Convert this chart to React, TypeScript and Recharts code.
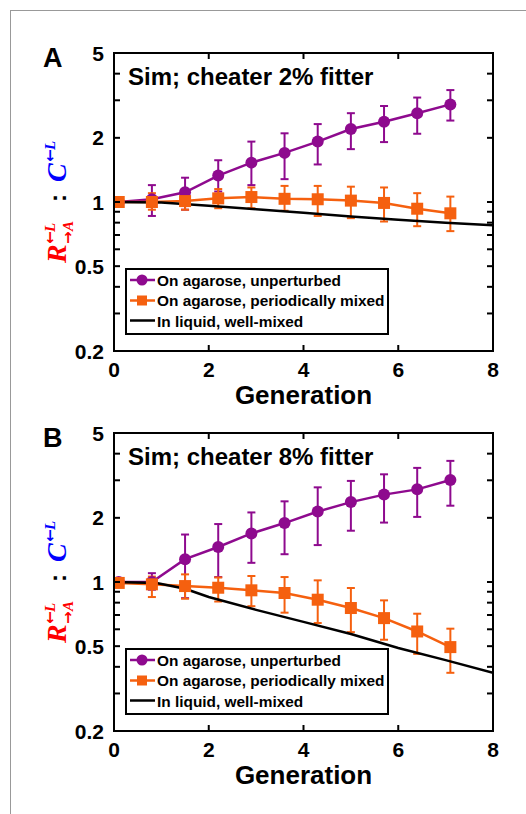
import React from "react";
import { ErrorBar, Line, LineChart, ReferenceArea, XAxis, YAxis } from "recharts";

const generations = [0.1, 0.8, 1.5, 2.2, 2.9, 3.6, 4.3, 5.0, 5.7, 6.4, 7.1];
const xTicks = [0, 2, 4, 6, 8];
const yTicks = [0.2, 0.3, 0.4, 0.5, 0.6, 0.7, 0.8, 0.9, 1, 2, 3, 4, 5];
const yLabels = [0.2, 0.5, 1, 2, 5];

// panel A: cheater 2% fitter
const agaroseA = [1.0, 1.03, 1.11, 1.33, 1.53, 1.7, 1.92, 2.2, 2.38, 2.61, 2.87];
const agaroseLoA = [1.0, 0.86, 0.92, 1.12, 1.2, 1.28, 1.5, 1.77, 1.91, 2.09, 2.41];
const agaroseHiA = [1.0, 1.2, 1.3, 1.57, 1.92, 2.1, 2.32, 2.61, 2.82, 3.09, 3.35];
const mixedA = [1.0, 1.0, 1.01, 1.04, 1.055, 1.035, 1.03, 1.015, 0.99, 0.93, 0.885];
const mixedLoA = [1.0, 0.92, 0.92, 0.935, 0.935, 0.91, 0.86, 0.84, 0.81, 0.77, 0.73];
const mixedHiA = [1.0, 1.1, 1.09, 1.15, 1.17, 1.19, 1.19, 1.18, 1.17, 1.1, 1.06];
const liquidGenA = [0, 1, 2, 3, 4, 5, 6, 7, 8];
const liquidA = [1.0, 0.995, 0.96, 0.925, 0.89, 0.855, 0.825, 0.8, 0.777];

// panel B: cheater 8% fitter
const agaroseB = [1.0, 1.0, 1.28, 1.46, 1.69, 1.89, 2.14, 2.37, 2.57, 2.72, 3.01];
const agaroseLoB = [1.0, 0.92, 0.84, 1.055, 1.23, 1.35, 1.49, 1.74, 1.9, 2.02, 2.28];
const agaroseHiB = [1.0, 1.1, 1.67, 1.87, 2.12, 2.39, 2.78, 2.98, 3.2, 3.43, 3.7];
const mixedB = [0.99, 0.975, 0.957, 0.94, 0.914, 0.888, 0.826, 0.755, 0.677, 0.586, 0.495];
const mixedLoB = [0.99, 0.85, 0.835, 0.81, 0.77, 0.718, 0.642, 0.582, 0.536, 0.46, 0.375];
const mixedHiB = [0.99, 1.06, 1.086, 1.05, 1.067, 1.055, 1.018, 0.937, 0.82, 0.71, 0.604];
const liquidGenB = [0, 0.9, 1.5, 2, 3, 4, 5, 6, 7, 8];
const liquidB = [1.0, 0.99, 0.93, 0.85, 0.74, 0.65, 0.57, 0.49, 0.43, 0.375];

const legendNames = [
  "On agarose, unperturbed",
  "On agarose, periodically mixed",
  "In liquid, well-mixed",
];

const PURPLE = "#8e0a8e";
const ORANGE = "#f5600f";
const SANS = "'Liberation Sans', Arial, Helvetica, sans-serif";
const SERIF = "'Liberation Serif', 'Times New Roman', serif";
const ARROWS = "'DejaVu Sans', sans-serif";

const W = 526;
const H = 410;
const LEFT = 114;
const RIGHT = 493;
const TOP = 53;
const BOTTOM = 351;
const TICK = 6;

// inward tick marks (bottom + mirrored top) and the label under the axis
const BottomTick = (props: any) => {
  const { x, y, payload } = props;
  const top = y - (BOTTOM - TOP);
  return (
    <g>
      <line x1={x} y1={y} x2={x} y2={y - TICK} stroke="#000" strokeWidth={2} />
      <line x1={x} y1={top} x2={x} y2={top + TICK} stroke="#000" strokeWidth={2} />
      <text x={x} y={y + 26} textAnchor="middle" fontSize={21} fontWeight="bold" fontFamily={SANS} fill="#000">
        {payload.value}
      </text>
    </g>
  );
};

// inward tick marks (left + mirrored right), labels only on 0.2, 0.5, 1, 2, 5
const LeftTick = (props: any) => {
  const { x, y, payload } = props;
  const right = x + (RIGHT - LEFT);
  return (
    <g>
      <line x1={x} y1={y} x2={x + TICK} y2={y} stroke="#000" strokeWidth={2} />
      <line x1={right} y1={y} x2={right - TICK} y2={y} stroke="#000" strokeWidth={2} />
      {yLabels.includes(payload.value) && (
        <text x={x - 10} y={y} dy="0.36em" textAnchor="end" fontSize={21} fontWeight="bold" fontFamily={SANS} fill="#000">
          {payload.value}
        </text>
      )}
    </g>
  );
};

const circleDot = (p: any) => <circle key={p.index} cx={p.cx} cy={p.cy} r={6} fill={PURPLE} />;
const squareDot = (p: any) => <rect key={p.index} x={p.cx - 6} y={p.cy - 6} width={12} height={12} fill={ORANGE} />;

function YLabel() {
  // R^{<-L}_{->A} : C^{<-L}, rotated
  return (
    <g transform="translate(66,202) rotate(-90)" fontWeight="bold">
      <text x={-61} y={0} fontSize={28} fontStyle="italic" fontFamily={SERIF} fill="#ff0000">R</text>
      <text x={-42} y={-11} fontSize={15} fontFamily={ARROWS} fill="#ff0000">←</text>
      <text x={-30} y={-11} fontSize={15} fontStyle="italic" fontFamily={SERIF} fill="#ff0000">L</text>
      <text x={-42} y={7} fontSize={15} fontFamily={ARROWS} fill="#ff0000">→</text>
      <text x={-29} y={7} fontSize={15} fontStyle="italic" fontFamily={SERIF} fill="#ff0000">A</text>
      <text x={4} y={0} textAnchor="middle" fontSize={24} fontFamily={SANS} fill="#000">:</text>
      <text x={20} y={0} fontSize={28} fontStyle="italic" fontFamily={SERIF} fill="#0000ff">C</text>
      <text x={40} y={-11} fontSize={15} fontFamily={ARROWS} fill="#0000ff">←</text>
      <text x={52} y={-11} fontSize={15} fontStyle="italic" fontFamily={SERIF} fill="#0000ff">L</text>
    </g>
  );
}

function Panel(props: {
  top: number;
  letter: string;
  title: string;
  agarose: number[];
  agaroseLo: number[];
  agaroseHi: number[];
  mixed: number[];
  mixedLo: number[];
  mixedHi: number[];
  liquidGen: number[];
  liquid: number[];
}) {
  const rows = generations.map((g, i) => ({
    gen: g,
    agarose: props.agarose[i],
    agaroseErr: [props.agarose[i] - props.agaroseLo[i], props.agaroseHi[i] - props.agarose[i]],
    mixed: props.mixed[i],
    mixedErr: [props.mixed[i] - props.mixedLo[i], props.mixedHi[i] - props.mixed[i]],
  }));
  const liquidRows = props.liquidGen.map((g, i) => ({ gen: g, liquid: props.liquid[i] }));

  return (
    <div style={{ position: "absolute", left: 0, top: props.top, width: W, height: H }}>
      <LineChart
        width={W}
        height={H}
        data={rows}
        margin={{ top: TOP - 10, right: W - RIGHT - 10, bottom: H - BOTTOM - 30, left: 0 }}
      >
        <XAxis
          xAxisId="b"
          dataKey="gen"
          type="number"
          domain={[0, 8]}
          ticks={xTicks}
          interval={0}
          allowDataOverflow
          height={30}
          tickSize={0}
          tickMargin={0}
          tickLine={false}
          axisLine={{ stroke: "#000", strokeWidth: 2 }}
          tick={<BottomTick />}
        />
        <XAxis
          xAxisId="t"
          orientation="top"
          dataKey="gen"
          type="number"
          domain={[0, 8]}
          allowDataOverflow
          height={10}
          tickLine={false}
          tick={false}
          axisLine={{ stroke: "#000", strokeWidth: 2 }}
        />
        <YAxis
          yAxisId="l"
          type="number"
          scale="log"
          domain={[0.2, 5]}
          ticks={yTicks}
          interval={0}
          allowDataOverflow
          width={LEFT}
          tickSize={0}
          tickMargin={0}
          tickLine={false}
          axisLine={{ stroke: "#000", strokeWidth: 2 }}
          tick={<LeftTick />}
        />
        <YAxis
          yAxisId="r"
          orientation="right"
          type="number"
          scale="log"
          domain={[0.2, 5]}
          allowDataOverflow
          width={10}
          tickLine={false}
          tick={false}
          axisLine={{ stroke: "#000", strokeWidth: 2 }}
        />
        <ReferenceArea
          xAxisId="b"
          yAxisId="l"
          x1={0}
          x2={8}
          y1={0.2}
          y2={5}
          fill="none"
          fillOpacity={0}
          stroke="#000"
          strokeWidth={2}
          ifOverflow="visible"
        />
        <Line
          xAxisId="b"
          yAxisId="l"
          dataKey="agarose"
          stroke={PURPLE}
          strokeWidth={2.5}
          dot={circleDot}
          activeDot={false}
          isAnimationActive={false}
        >
          <ErrorBar dataKey="agaroseErr" width={4} strokeWidth={2} stroke={PURPLE} direction="y" />
        </Line>
        <Line
          xAxisId="b"
          yAxisId="l"
          dataKey="mixed"
          stroke={ORANGE}
          strokeWidth={2.5}
          dot={squareDot}
          activeDot={false}
          isAnimationActive={false}
        >
          <ErrorBar dataKey="mixedErr" width={4} strokeWidth={2} stroke={ORANGE} direction="y" />
        </Line>
        <Line
          xAxisId="b"
          yAxisId="l"
          data={liquidRows}
          dataKey="liquid"
          stroke="#000"
          strokeWidth={2.5}
          dot={false}
          activeDot={false}
          isAnimationActive={false}
        />
      </LineChart>
      {/* axes box, also as a plain border so it always shows */}
      <div
        style={{
          position: "absolute",
          left: LEFT - 1,
          top: TOP - 1,
          width: RIGHT - LEFT + 2,
          height: BOTTOM - TOP + 2,
          boxSizing: "border-box",
          border: "2px solid #000",
          pointerEvents: "none",
        }}
      />
      <svg
        width={W}
        height={H}
        style={{ position: "absolute", left: 0, top: 0, pointerEvents: "none" }}
      >
        <text x={43} y={67} fontSize={27} fontWeight="bold" fontFamily={SANS} fill="#000">
          {props.letter}
        </text>
        <text x={128} y={85} fontSize={24} fontWeight="bold" fontFamily={SANS} fill="#000">
          {props.title}
        </text>
        <text x={(LEFT + RIGHT) / 2} y={404} textAnchor="middle" fontSize={26} fontWeight="bold" fontFamily={SANS} fill="#000">
          Generation
        </text>
        <YLabel />
        <rect x={126} y={269} width={262} height={65} fill="#fff" stroke="#000" strokeWidth={2} />
        <line x1={130} y1={280} x2={155} y2={280} stroke={PURPLE} strokeWidth={2.5} />
        <circle cx={142} cy={280} r={5.5} fill={PURPLE} />
        <line x1={130} y1={300.5} x2={155} y2={300.5} stroke={ORANGE} strokeWidth={2.5} />
        <rect x={137} y={295.5} width={10} height={10} fill={ORANGE} />
        <line x1={130} y1={320.5} x2={155} y2={320.5} stroke="#000" strokeWidth={2.5} />
        {legendNames.map((name, i) => (
          <text key={name} x={157} y={285.5 + i * 20.5} fontSize={15.4} fontWeight="bold" fontFamily={SANS} fill="#000">
            {name}
          </text>
        ))}
      </svg>
    </div>
  );
}

export default function App() {
  return (
    <div style={{ position: "absolute", left: 0, top: 0, width: W, height: 814, background: "#fff", overflow: "hidden" }}>
      <div
        style={{
          position: "absolute",
          left: 10,
          top: 10,
          width: 520,
          height: 810,
          borderTop: "1px solid #999",
          borderLeft: "1px solid #999",
        }}
      />
      <Panel
        top={0}
        letter="A"
        title="Sim; cheater 2% fitter"
        agarose={agaroseA}
        agaroseLo={agaroseLoA}
        agaroseHi={agaroseHiA}
        mixed={mixedA}
        mixedLo={mixedLoA}
        mixedHi={mixedHiA}
        liquidGen={liquidGenA}
        liquid={liquidA}
      />
      <Panel
        top={380}
        letter="B"
        title="Sim; cheater 8% fitter"
        agarose={agaroseB}
        agaroseLo={agaroseLoB}
        agaroseHi={agaroseHiB}
        mixed={mixedB}
        mixedLo={mixedLoB}
        mixedHi={mixedHiB}
        liquidGen={liquidGenB}
        liquid={liquidB}
      />
    </div>
  );
}
